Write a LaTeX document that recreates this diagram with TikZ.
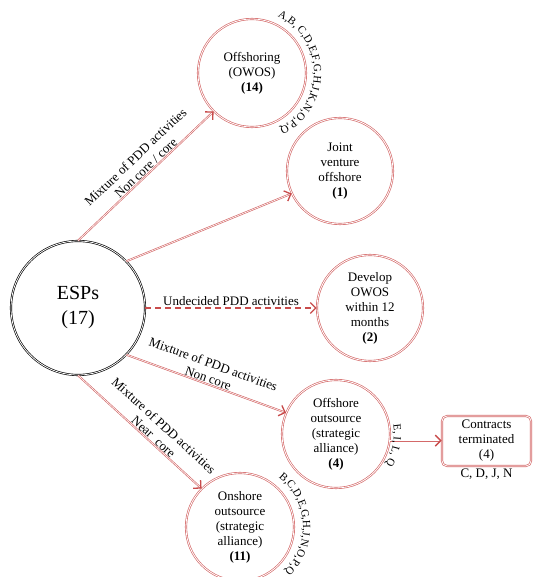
\documentclass[tikz,border=0pt]{standalone}
\usepackage{fontspec}
\setmainfont{Liberation Serif}
\usetikzlibrary{arrows.meta, decorations.text}
\definecolor{rd}{RGB}{212,105,105}
\definecolor{rdark}{RGB}{200,75,75}

\begin{document}
\begin{tikzpicture}[x=1pt, y=1pt,
  circ/.style={circle, draw=rd, double=white, double distance=0.8pt, line width=0.65pt,
               minimum size=#1, inner sep=0pt, align=center,
               font=\fontsize{13}{15}\selectfont},
  boxnode/.style={rectangle, rounded corners=5pt, draw=rd, double=white, double distance=0.8pt,
               line width=0.65pt, align=center, font=\fontsize{13}{15}\selectfont},
  link/.style={draw=rd, double=white, double distance=0.6pt, line width=0.65pt},
  tip/.style={-{Straight Barb[length=5.5pt, width=11pt, line width=1.3pt, color=rdark]}},
  lbl/.style={font=\fontsize{13}{15}\selectfont, text=black, align=center, sloped, above, inner sep=1pt},
  ring/.style={decorate, decoration={text along path, text align=center,
               text={|\fontsize{11}{13}\selectfont|#1}}}
]
\useasboundingbox (0,0) rectangle (532,577);

% nodes
\node[circ=134pt, draw=black, font=\fontsize{20}{25}\selectfont] (esp) at (78,269) {ESPs\\(17)};
\node[circ=108pt] (offs) at (252,504) {Offshoring\\(OWOS)\\\textbf{(14)}};
\node[circ=106pt] (joint) at (340,406) {Joint\\venture\\offshore\\\textbf{(1)}};
\node[circ=106pt] (dev) at (370,269) {Develop\\OWOS\\within 12\\months\\\textbf{(2)}};
\node[circ=108pt] (offout) at (336,143) {Offshore\\outsource\\(strategic\\alliance)\\\textbf{(4)}};
\node[circ=108pt] (onsh) at (240,50) {Onshore\\outsource\\(strategic\\alliance)\\\textbf{(11)}};
\node[boxnode, minimum width=89pt, minimum height=50pt] (term) at (486.5,136) {Contracts\\terminated\\(4)};
\node[font=\fontsize{13}{15}\selectfont, inner sep=0pt] (termlist) at (486.5,103) {C, D, J, N};

% connectors
\draw[link, tip] (esp.90) -- (offs.225)
  node[lbl, pos=0.53] {Mixture of PDD activities\\Non core / core};
\draw[link, tip] (esp.44) -- (joint.205);
\draw[link, tip] (esp.-44) -- (offout.157)
  node[lbl, pos=0.5] {Mixture of PDD activities\\Non core};
\draw[link, tip] (esp.-90) -- (onsh.135)
  node[lbl, pos=0.58] {Mixture of PDD activities\\Near~ core};
\draw[rdark, line width=1.3pt, dash pattern=on 6pt off 4pt, tip] (esp.0) -- (dev.180)
  node[midway, above, text=black, font=\fontsize{13}{14}\selectfont, inner sep=2pt] {Undecided PDD activities};
\draw[link, tip] (offout.-7) -- (offout.-7 -| term.west);

% letter lists set along the circles
\path[ring={A,B, C,D,E,F,G,H,J,K,N,O,P,Q}]
  (offs.center) ++(68:62) arc[start angle=68, end angle=-66, radius=62];
\path[ring={B,C,D,E,G,H,J,N,O,P,Q}]
  (onsh.center) ++(53:63) arc[start angle=53, end angle=-46, radius=63];
\path[ring={E, I, L, Q}]
  (offout.center) ++(12:58) arc[start angle=12, end angle=-34, radius=58];
\end{tikzpicture}
\end{document}
